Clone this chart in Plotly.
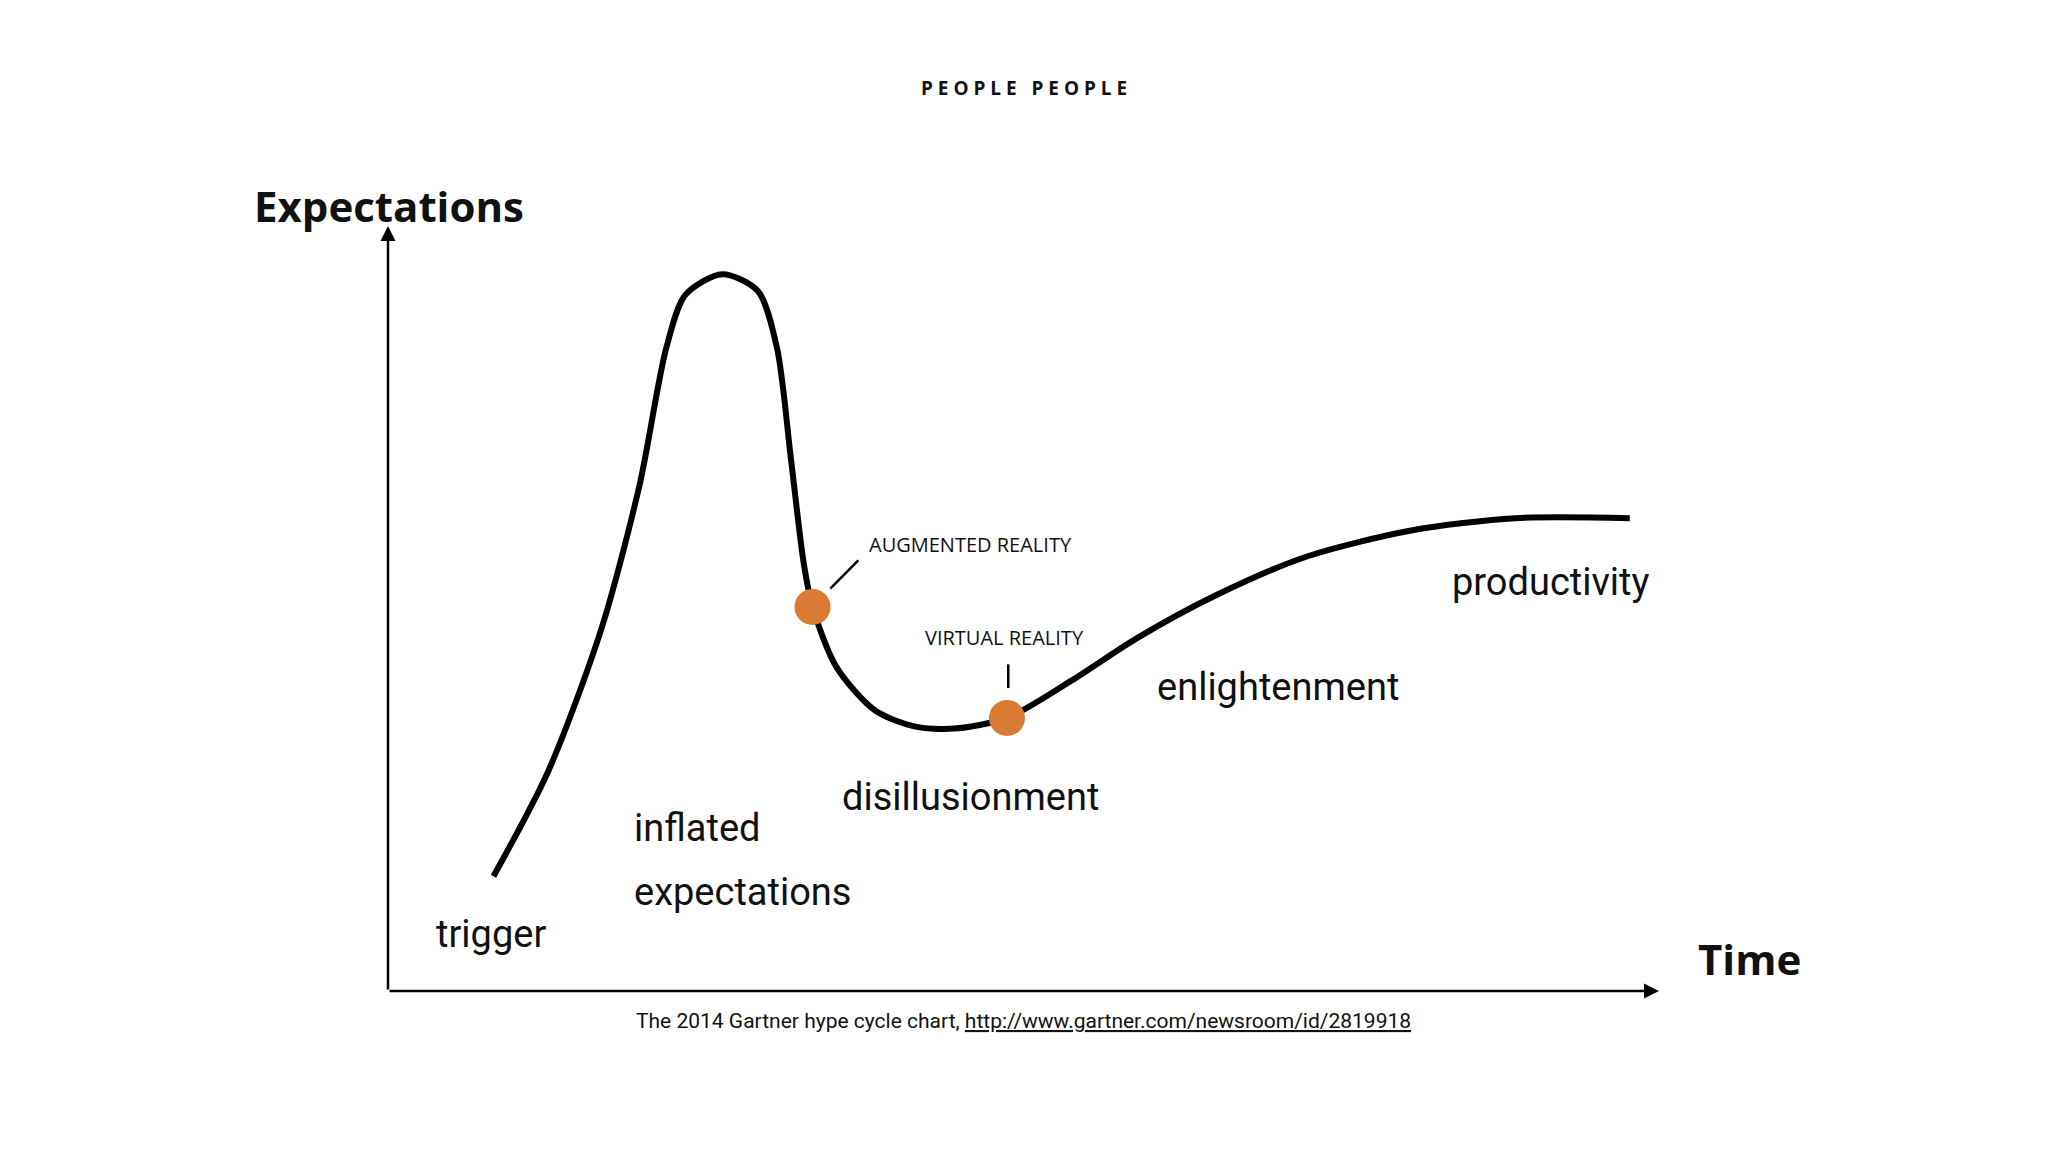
import plotly.graph_objects as go

curve_x = [8.3,12.6,16.8,19.8,21.9,23.4,26.3,29.1,30.6,31.7,32.7,33.4,35.3,38.3,41.4,44.5,48.7,53.8,58.9,65.1,72.3,80.5,88.7,97.7]
curve_y = [15.0,28.7,47.4,66.2,84.1,91.0,93.7,91.5,84.1,69.6,56.0,50.2,42.3,36.7,34.6,34.3,35.7,40.6,46.1,51.7,56.8,60.2,61.8,61.8]
point_names = ["AUGMENTED REALITY", "VIRTUAL REALITY"]
point_x = [33.4, 48.7]
point_y = [50.2, 35.7]
phase_labels = ["trigger", "inflated", "expectations", "disillusionment", "enlightenment", "productivity"]
phase_x = [8.1, 19.2, 19.2, 45.8, 70.0, 91.5]
phase_y = [7.5, 21.3, 13.0, 25.4, 39.8, 53.4]
phase_anchor = ["center", "left", "left", "center", "center", "center"]

FONT = "Liberation Sans Narrow, Roboto, Arial Narrow, sans-serif"
fig = go.Figure()
fig.add_trace(go.Scatter(x=curve_x, y=curve_y, mode="lines",
                         line=dict(color="black", width=6, shape="spline", smoothing=0.8),
                         hoverinfo="skip"))
fig.add_trace(go.Scatter(x=point_x, y=point_y, mode="markers",
                         marker=dict(color="#d97b32", size=36), hoverinfo="skip"))

ann = []
for t, x, y, a in zip(phase_labels, phase_x, phase_y, phase_anchor):
    ann.append(dict(x=x, y=y, text=t, showarrow=False, xanchor=a,
                    font=dict(size=38, color="#111", family=FONT)))
ann.append(dict(x=37.7, y=58.4, text=point_names[0], showarrow=False, xanchor="left",
                font=dict(size=20, color="#111", family="Open Sans")))
ann.append(dict(x=48.5, y=46.2, text=point_names[1], showarrow=False,
                font=dict(size=20, color="#111", family="Open Sans")))
ann.append(dict(x=100, y=0, ax=0, ay=0, xref="x", yref="y", axref="x", ayref="y",
                showarrow=True, arrowhead=2, arrowsize=1.2, arrowwidth=2.5, arrowcolor="black", text=""))
ann.append(dict(x=0, y=100, ax=0, ay=0, xref="x", yref="y", axref="x", ayref="y",
                showarrow=True, arrowhead=2, arrowsize=1.2, arrowwidth=2.5, arrowcolor="black", text=""))
# texts outside the plot area, in paper coordinates (domain maps 0..100)
ann.append(dict(x=-0.107, y=1.067, xref="paper", yref="paper", text="<b>Expectations</b>", showarrow=False,
                xanchor="left", font=dict(size=42, color="#111", family="Open Sans")))
ann.append(dict(x=1.029, y=0.003, xref="paper", yref="paper", text="<b>Time</b>", showarrow=False,
                xanchor="left", font=dict(size=42, color="#111", family="Open Sans")))
ann.append(dict(x=0.5, y=1.20, xref="paper", yref="paper", text="<b>P E O P L E   P E O P L E</b>", showarrow=False,
                font=dict(size=19, color="#111", family="Open Sans")))
ann.append(dict(x=0.5, y=-0.058, xref="paper", yref="paper",
                text="The 2014 Gartner hype cycle chart, <u>http://www.gartner.com/newsroom/id/2819918</u>",
                showarrow=False, font=dict(size=21, color="#111", family=FONT)))

shapes = [
    dict(type="line", x0=34.8, y0=52.6, x1=37.0, y1=56.3, line=dict(color="black", width=2.5)),
    dict(type="line", x0=48.8, y0=39.6, x1=48.8, y1=42.7, line=dict(color="black", width=2.5)),
]

fig.update_layout(
    width=2048, height=1152, showlegend=False,
    plot_bgcolor="white", paper_bgcolor="white",
    margin=dict(l=380, r=397, t=218, b=169),
    xaxis=dict(range=[0, 100], visible=False, fixedrange=True),
    yaxis=dict(range=[0, 100], visible=False, fixedrange=True),
    annotations=ann, shapes=shapes,
)
fig.write_html("out.html")
